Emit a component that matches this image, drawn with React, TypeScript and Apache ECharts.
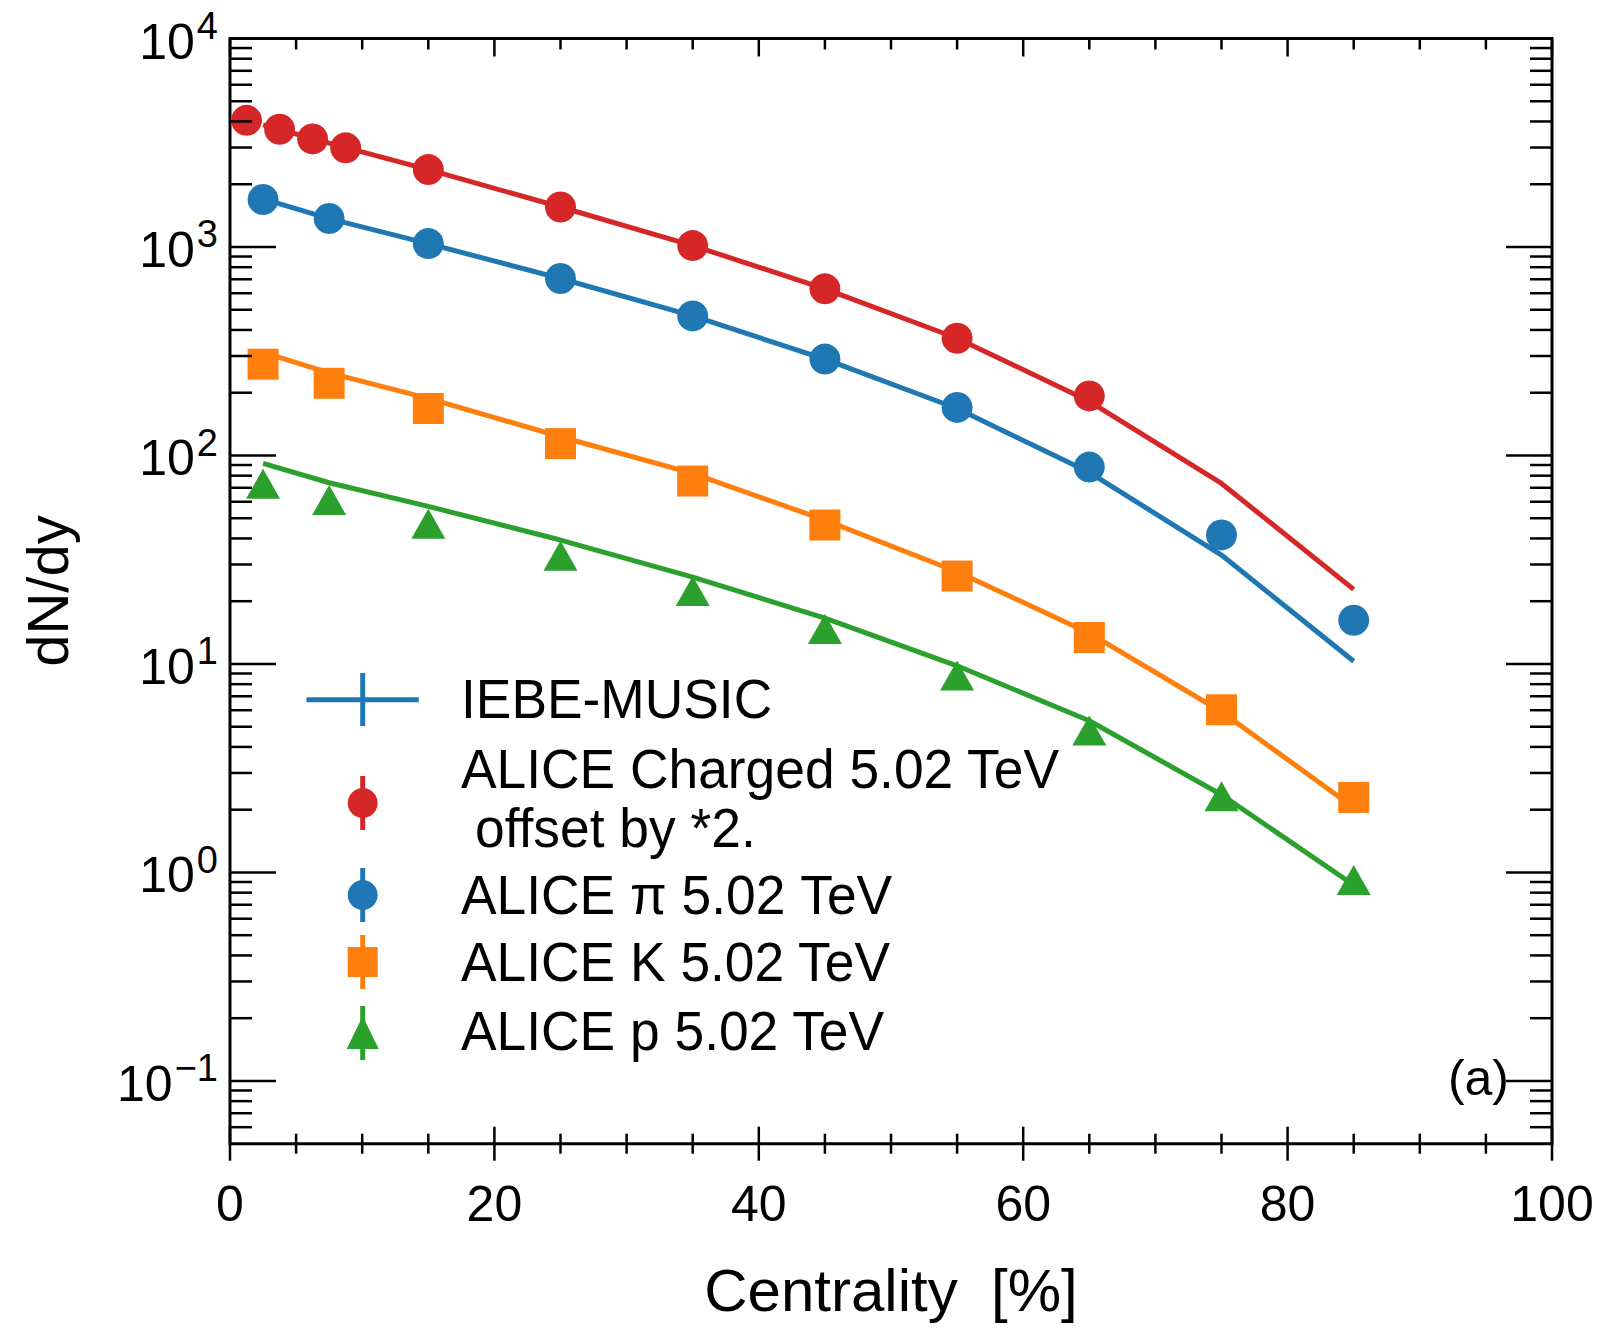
import React, { useEffect, useRef } from 'react';
import * as echarts from 'echarts';

// Centrality bins (%) of the IEBE-MUSIC model curves
const centralityModel = [2.5, 7.5, 15, 25, 35, 45, 55, 65, 75, 85];
const musicCharged = [3850, 3150, 2350, 1555, 1016, 630, 365, 182, 73.4, 22.8];
const musicPion = [1700, 1369, 1038, 706, 467, 290, 168, 83, 33.3, 10.3];
const musicKaon = [312, 249, 188, 123, 82, 49, 27.7, 14.05, 5.9, 2.05];
const musicProton = [91.6, 74, 57, 39.3, 26.1, 16.6, 9.8, 5.34, 2.36, 0.87];

// ALICE Pb-Pb 5.02 TeV measurements (charged hadrons already multiplied by 2)
const centralityCharged = [1.25, 3.75, 6.25, 8.75, 15, 25, 35, 45, 55, 65];
const aliceChargedX2 = [4050, 3670, 3300, 2990, 2350, 1555, 1016, 630, 365, 193];
const centralityPid = [2.5, 7.5, 15, 25, 35, 45, 55, 65, 75, 85];
const alicePion = [1690, 1370, 1038, 706, 467, 290, 170, 88, 41.6, 16.2];
const aliceKaon = [274, 222, 168, 114, 75.4, 46.4, 26.4, 13.4, 6.03, 2.29];
const aliceProton = [73.2, 61.1, 47.1, 33.0, 22.4, 14.7, 8.8, 4.8, 2.32, 0.92];

// Axis ranges and tick positions
const X_MIN = 0;
const X_MAX = 100;
const Y_MIN = 0.05;
const Y_MAX = 10000;
const xMajorTicks = [0, 20, 40, 60, 80, 100];
const xMinorTicks = [5, 10, 15, 25, 30, 35, 45, 50, 55, 65, 70, 75, 85, 90, 95];
const yMajorTicks = [0.1, 1, 10, 100, 1000, 10000];
const yDecades = [0.01, 0.1, 1, 10, 100, 1000];
const yMinorMultipliers = [2, 3, 4, 5, 6, 7, 8, 9];

const RED = '#d62728';
const BLUE = '#1f77b4';
const ORANGE = '#ff7f0e';
const GREEN = '#2ca02c';
const FONT = '"Liberation Sans", Arial, Helvetica, sans-serif';
const BASE_SIZE = 50;
const SUP_SIZE = 38;

const zip = (xs: number[], ys: number[]) => xs.map((x, i) => [x, ys[i]]);

let measureCtx: CanvasRenderingContext2D | null = null;
function textWidth(text: string, size: number) {
  if (!measureCtx && typeof document !== 'undefined') {
    measureCtx = document.createElement('canvas').getContext('2d');
  }
  if (measureCtx) {
    measureCtx.font = size + 'px ' + FONT;
    return measureCtx.measureText(text).width;
  }
  return text.length * 0.57 * size;
}

function buildTicks() {
  const rows: number[][] = [];
  xMajorTicks.forEach((v) => rows.push([v, Y_MIN, 0]));
  xMinorTicks.forEach((v) => rows.push([v, Y_MIN, 1]));
  yMajorTicks.forEach((v) => rows.push([X_MIN, v, 2]));
  yDecades.forEach((d) =>
    yMinorMultipliers.forEach((m) => {
      const v = d * m;
      if (v > Y_MIN * 1.0001 && v < Y_MAX) rows.push([X_MIN, v, 3]);
    })
  );
  return rows;
}

function exponentText(v: number) {
  const e = Math.round(Math.log10(v));
  return e < 0 ? '\u2212' + -e : String(e);
}

function lineSeries(name: string, ys: number[], color: string) {
  return {
    name,
    type: 'line',
    data: zip(centralityModel, ys),
    symbol: 'none',
    showSymbol: false,
    lineStyle: { color, width: 5 },
    itemStyle: { color },
    z: 2,
    silent: true,
  };
}

function scatterSeries(name: string, xs: number[], ys: number[], color: string, symbol: string, size: any) {
  return {
    name,
    type: 'scatter',
    data: zip(xs, ys),
    symbol,
    symbolSize: size,
    itemStyle: { color, opacity: 1 },
    z: 3,
    silent: true,
  };
}

// Legend handle: marker with a vertical error bar
function legendMarker(cy: number, color: string, shape: string) {
  const cx = 362.7;
  const children: any[] = [
    { type: 'rect', shape: { x: cx - 2.5, y: cy - 27, width: 5, height: 54 }, style: { fill: color } },
  ];
  if (shape === 'circle') {
    children.push({ type: 'circle', shape: { cx, cy, r: 15 }, style: { fill: color } });
  } else if (shape === 'rect') {
    children.push({ type: 'rect', shape: { x: cx - 15, y: cy - 15, width: 30, height: 30 }, style: { fill: color } });
  } else {
    children.push({
      type: 'polygon',
      shape: { points: [[cx, cy - 17], [cx - 16, cy + 16], [cx + 16, cy + 16]] },
      style: { fill: color },
    });
  }
  return { type: 'group', children };
}

function legendText(text: string, x: number, y: number) {
  return {
    type: 'text',
    x,
    y,
    scaleX: 0.97,
    style: { text, fill: '#000', fontSize: 55, fontFamily: FONT, textAlign: 'left', textVerticalAlign: 'middle' },
  };
}

export default function App() {
  const ref = useRef<HTMLDivElement>(null);

  useEffect(() => {
    if (!ref.current) return;
    const chart = echarts.init(ref.current, undefined, { renderer: 'svg' });

    const option: any = {
      animation: false,
      backgroundColor: '#fff',
      grid: {
        left: 230,
        top: 38.5,
        width: 1322,
        height: 1105.2,
        show: true,
        borderColor: '#000',
        borderWidth: 3,
        backgroundColor: 'transparent',
        outerBoundsMode: 'none',
        containLabel: false,
      },
      xAxis: {
        type: 'value',
        min: X_MIN,
        max: X_MAX,
        interval: 20,
        name: 'Centrality  [%]',
        nameLocation: 'middle',
        nameGap: 117,
        nameMoveOverlap: false,
        nameTextStyle: { fontSize: 60, fontFamily: FONT, color: '#000' },
        axisLine: { show: false },
        axisTick: { show: false },
        splitLine: { show: false },
        axisLabel: { fontSize: 50, fontFamily: FONT, color: '#000', margin: 35 },
      },
      yAxis: {
        type: 'log',
        logBase: 10,
        min: Y_MIN,
        max: Y_MAX,
        name: 'dN/dy',
        nameLocation: 'middle',
        nameRotate: 90,
        nameGap: 154,
        nameMoveOverlap: false,
        nameTextStyle: { fontSize: 58, fontFamily: FONT, color: '#000' },
        axisLine: { show: false },
        axisTick: { show: false },
        splitLine: { show: false },
        minorTick: { show: false },
        axisLabel: { show: false },
      },
      series: [
        lineSeries('IEBE-MUSIC charged', musicCharged, RED),
        lineSeries('IEBE-MUSIC pi', musicPion, BLUE),
        lineSeries('IEBE-MUSIC K', musicKaon, ORANGE),
        lineSeries('IEBE-MUSIC p', musicProton, GREEN),
        scatterSeries('ALICE Charged 5.02 TeV', centralityCharged, aliceChargedX2, RED, 'circle', 31),
        scatterSeries('ALICE pi 5.02 TeV', centralityPid, alicePion, BLUE, 'circle', 31),
        scatterSeries('ALICE K 5.02 TeV', centralityPid, aliceKaon, ORANGE, 'rect', 31),
        scatterSeries('ALICE p 5.02 TeV', centralityPid, aliceProton, GREEN, 'triangle', [34, 30]),
        {
          // frame ticks on all four sides, plus the 10^n labels of the log axis
          name: 'frame ticks',
          type: 'custom',
          data: buildTicks(),
          dimensions: ['x', 'y', 'kind'],
          encode: { x: 0, y: 1 },
          clip: false,
          silent: true,
          z: 6,
          renderItem: (_params: any, api: any) => {
            const kind = api.value(2);
            const st = { stroke: '#000', lineWidth: 2.5 };
            if (kind < 2) {
              const v = api.value(0);
              const b = api.coord([v, Y_MIN]);
              const t = api.coord([v, Y_MAX]);
              const lb = kind === 0 ? 17 : 10;
              const lt = kind === 0 ? 18 : 11;
              return {
                type: 'group',
                children: [
                  { type: 'line', shape: { x1: b[0], y1: b[1] - lb, x2: b[0], y2: b[1] + lb }, style: st },
                  { type: 'line', shape: { x1: t[0], y1: t[1], x2: t[0], y2: t[1] + lt }, style: st },
                ],
              };
            }
            const v = api.value(1);
            const l = api.coord([X_MIN, v]);
            const r = api.coord([X_MAX, v]);
            const len = kind === 2 ? 46 : 22;
            const children: any[] = [
              { type: 'line', shape: { x1: l[0], y1: l[1], x2: l[0] + len, y2: l[1] }, style: st },
              { type: 'line', shape: { x1: r[0] - len, y1: r[1], x2: r[0], y2: r[1] }, style: st },
            ];
            if (kind === 2) {
              const sup = exponentText(v);
              const xr = l[0] - 12;
              const supW = textWidth(sup, SUP_SIZE);
              children.push({
                type: 'text',
                style: {
                  text: sup,
                  x: xr,
                  y: l[1] - 12.5,
                  fill: '#000',
                  fontSize: SUP_SIZE,
                  fontFamily: FONT,
                  align: 'right',
                  verticalAlign: 'middle',
                },
              });
              children.push({
                type: 'text',
                style: {
                  text: '10',
                  x: xr - supW - 2,
                  y: l[1] + 3,
                  fill: '#000',
                  fontSize: BASE_SIZE,
                  fontFamily: FONT,
                  align: 'right',
                  verticalAlign: 'middle',
                },
              });
            }
            return { type: 'group', children };
          },
        },
      ],
      graphic: {
        elements: [
          {
            type: 'group',
            z: 20,
            children: [
              { type: 'rect', shape: { x: 306.5, y: 697.3, width: 112.3, height: 5 }, style: { fill: BLUE } },
              { type: 'rect', shape: { x: 360.2, y: 673, width: 5, height: 53 }, style: { fill: BLUE } },
              legendMarker(803, RED, 'circle'),
              legendMarker(895, BLUE, 'circle'),
              legendMarker(962, ORANGE, 'rect'),
              legendMarker(1033, GREEN, 'triangle'),
              legendText('IEBE-MUSIC', 461, 699),
              legendText('ALICE Charged 5.02 TeV', 461, 769),
              legendText('offset by *2.', 475, 828),
              legendText('ALICE \u03c0 5.02 TeV', 461, 895),
              legendText('ALICE K 5.02 TeV', 461, 961.5),
              legendText('ALICE p 5.02 TeV', 461, 1031),
              {
                type: 'text',
                x: 1509,
                y: 1078,
                style: {
                  text: '(a)',
                  fill: '#000',
                  fontSize: 50,
                  fontFamily: FONT,
                  textAlign: 'right',
                  textVerticalAlign: 'middle',
                },
              },
            ],
          },
        ],
      },
    };

    chart.setOption(option);
    return () => chart.dispose();
  }, []);

  return (
    <div
      ref={ref}
      style={{ position: 'absolute', left: 0, top: 0, width: 1604, height: 1332, background: '#fff' }}
    />
  );
}
